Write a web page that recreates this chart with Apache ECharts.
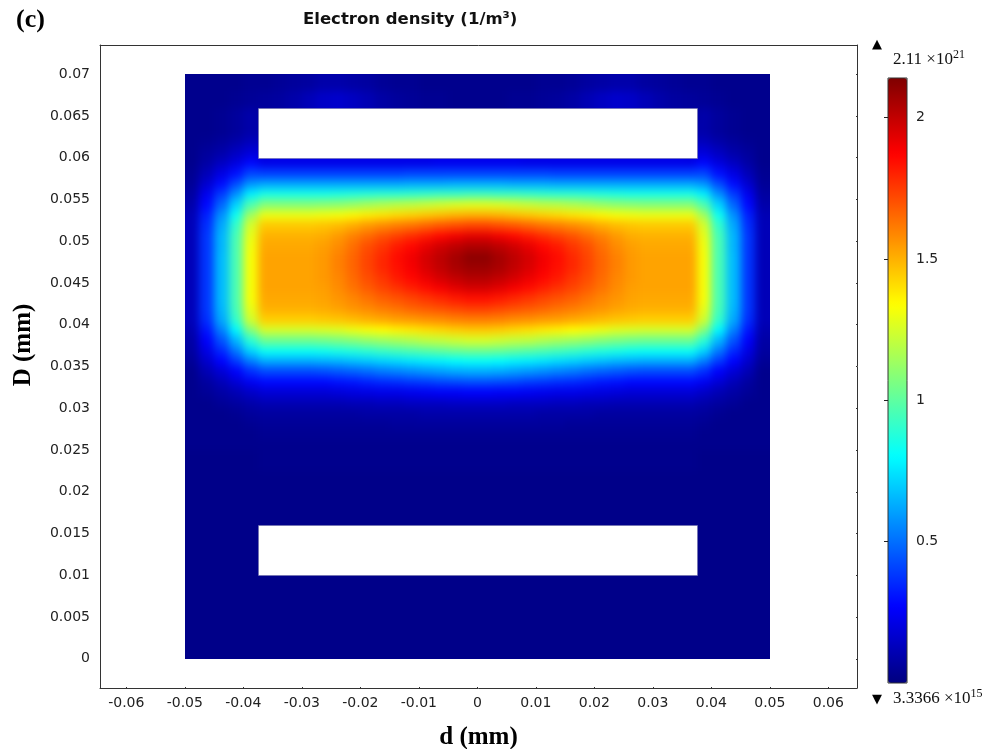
<!DOCTYPE html>
<html>
<head>
<meta charset="utf-8">
<script src="https://cdn.jsdelivr.net/npm/echarts@6/dist/echarts.min.js"></script>
<style>
  html, body { margin: 0; padding: 0; background: #fff; }
  #wrap { position: relative; width: 987px; height: 749px; }
  #field, #chart { position: absolute; left: 0; top: 0; width: 987px; height: 749px; }
  /* the solver field is a continuous solution: soften the mesh cells */
  #field { filter: blur(4px); }
</style>
</head>
<body>
<div id="wrap">
  <div id="field"></div>
  <div id="chart"></div>
</div>
<script>
// Axis ticks (mm)
const xTicks = [-0.06, -0.05, -0.04, -0.03, -0.02, -0.01, 0, 0.01, 0.02, 0.03, 0.04, 0.05, 0.06];
const yTicks = [0, 0.005, 0.01, 0.015, 0.02, 0.025, 0.03, 0.035, 0.04, 0.045, 0.05, 0.055, 0.06, 0.065, 0.07];
// Colour bar ticks (x 10^21 1/m^3)
const barTicks = [0.5, 1, 1.5, 2];
const densityMin = 0;      // 3.3366e15 1/m^3, effectively zero on this scale
const densityMax = 2.11;   // 2.11e21 1/m^3, maximum of the solution
const scaleMax = 2.14;     // top of the colour scale

// Simulation domain (x0, x1, y0, y1) in mm
const domain = [-0.05, 0.05, 0, 0.07];
// Electrodes (x0, x1, y0, y1) in mm
const electrodes = [
  [-0.0375, 0.0375, 0.01, 0.016],
  [-0.0375, 0.0375, 0.06, 0.066]
];

// Mesh columns: -0.05 .. 0.05 mm, 40 cells
const xEdges = [];
for (let k = 0; k <= 40; k++) xEdges.push(+(-0.05 + 0.0025 * k).toFixed(5));
// Mesh rows: coarse below and above the discharge band, fine inside it
const yEdges = [0, 0.005, 0.01, 0.016, 0.02, 0.0225, 0.025,
  0.02625, 0.0275, 0.02875, 0.03, 0.03125, 0.0325, 0.03375, 0.035, 0.03625, 0.0375,
  0.03875, 0.04, 0.04125, 0.0425, 0.04375, 0.045, 0.04625, 0.0475, 0.04875, 0.05,
  0.05125, 0.0525, 0.05375, 0.055, 0.05625, 0.0575, 0.05875, 0.06, 0.06125, 0.0625,
  0.066, 0.068, 0.07];

// Electron density per cell (x 10^21 1/m^3), rows bottom -> top; null = inside electrode
const _ = null;
const density = [
  [0.02,0.02,0.02,0.02,0.02,0.02,0.02,0.02,0.02,0.02, 0.02,0.02,0.02,0.02,0.02,0.02,0.02,0.02,0.02,0.02, 0.02,0.02,0.02,0.02,0.02,0.02,0.02,0.02,0.02,0.02, 0.02,0.02,0.02,0.02,0.02,0.02,0.02,0.02,0.02,0.02],
  [0.02,0.02,0.02,0.02,0.02,0.02,0.02,0.02,0.02,0.02, 0.02,0.02,0.02,0.02,0.02,0.02,0.02,0.02,0.02,0.02, 0.02,0.02,0.02,0.02,0.02,0.02,0.02,0.02,0.02,0.02, 0.02,0.02,0.02,0.02,0.02,0.02,0.02,0.02,0.02,0.02],
  [0.02,0.02,0.02,0.02,0.02,_,_,_,_,_, _,_,_,_,_,_,_,_,_,_, _,_,_,_,_,_,_,_,_,_, _,_,_,_,_,0.02,0.02,0.02,0.02,0.02],
  [0.02,0.02,0.02,0.02,0.02,0.02,0.02,0.02,0.02,0.02, 0.02,0.02,0.02,0.02,0.02,0.02,0.02,0.02,0.02,0.02, 0.02,0.02,0.02,0.02,0.02,0.02,0.02,0.02,0.02,0.02, 0.02,0.02,0.02,0.02,0.02,0.02,0.02,0.02,0.02,0.02],
  [0.02,0.02,0.02,0.02,0.02,0.02,0.02,0.02,0.02,0.02, 0.02,0.02,0.02,0.02,0.02,0.02,0.02,0.02,0.02,0.02, 0.02,0.02,0.02,0.02,0.02,0.02,0.02,0.02,0.02,0.02, 0.02,0.02,0.02,0.02,0.02,0.02,0.02,0.02,0.02,0.02],
  [0.02,0.02,0.02,0.02,0.02,0.03,0.03,0.03,0.03,0.03, 0.03,0.03,0.03,0.03,0.03,0.03,0.03,0.03,0.03,0.03, 0.03,0.03,0.03,0.03,0.03,0.03,0.03,0.03,0.03,0.03, 0.03,0.03,0.03,0.03,0.03,0.02,0.02,0.02,0.02,0.02],
  [0.03,0.03,0.03,0.03,0.03,0.03,0.03,0.03,0.03,0.03, 0.03,0.03,0.03,0.03,0.03,0.03,0.03,0.03,0.03,0.03, 0.03,0.03,0.03,0.03,0.03,0.03,0.03,0.03,0.03,0.03, 0.03,0.03,0.03,0.03,0.03,0.03,0.03,0.03,0.03,0.03],
  [0.03,0.03,0.03,0.03,0.03,0.04,0.04,0.04,0.04,0.04, 0.04,0.04,0.04,0.04,0.04,0.04,0.04,0.04,0.04,0.04, 0.04,0.04,0.04,0.04,0.04,0.04,0.04,0.04,0.04,0.04, 0.04,0.04,0.04,0.04,0.04,0.03,0.03,0.03,0.03,0.03],
  [0.03,0.03,0.03,0.03,0.04,0.05,0.05,0.05,0.05,0.05, 0.05,0.05,0.05,0.05,0.06,0.06,0.06,0.06,0.06,0.06, 0.06,0.06,0.06,0.06,0.06,0.06,0.05,0.05,0.05,0.05, 0.05,0.05,0.05,0.05,0.05,0.04,0.03,0.03,0.03,0.03],
  [0.03,0.03,0.03,0.04,0.06,0.07,0.07,0.07,0.07,0.07, 0.07,0.07,0.08,0.08,0.08,0.08,0.09,0.09,0.09,0.09, 0.09,0.09,0.09,0.09,0.08,0.08,0.08,0.08,0.07,0.07, 0.07,0.07,0.07,0.07,0.07,0.06,0.04,0.03,0.03,0.03],
  [0.03,0.03,0.05,0.07,0.09,0.11,0.11,0.11,0.11,0.11, 0.11,0.12,0.12,0.13,0.13,0.14,0.14,0.14,0.15,0.15, 0.15,0.15,0.14,0.14,0.14,0.13,0.13,0.12,0.12,0.11, 0.11,0.11,0.11,0.11,0.11,0.09,0.07,0.05,0.03,0.03],
  [0.03,0.05,0.08,0.11,0.15,0.18,0.18,0.18,0.18,0.18, 0.19,0.20,0.21,0.22,0.22,0.23,0.24,0.25,0.25,0.26, 0.26,0.25,0.25,0.24,0.23,0.22,0.22,0.21,0.20,0.19, 0.18,0.18,0.18,0.18,0.18,0.15,0.11,0.08,0.05,0.03],
  [0.03,0.07,0.12,0.18,0.24,0.28,0.28,0.28,0.28,0.28, 0.30,0.31,0.33,0.35,0.36,0.38,0.39,0.41,0.42,0.43, 0.43,0.42,0.41,0.39,0.38,0.36,0.35,0.33,0.31,0.30, 0.28,0.28,0.28,0.28,0.28,0.24,0.18,0.12,0.07,0.03],
  [0.03,0.11,0.18,0.26,0.36,0.42,0.42,0.42,0.42,0.43, 0.45,0.47,0.49,0.52,0.54,0.56,0.58,0.60,0.62,0.63, 0.63,0.62,0.60,0.58,0.56,0.54,0.52,0.49,0.47,0.45, 0.43,0.42,0.42,0.42,0.42,0.36,0.26,0.18,0.11,0.03],
  [0.05,0.16,0.27,0.39,0.53,0.63,0.63,0.63,0.63,0.64, 0.65,0.67,0.69,0.71,0.73,0.75,0.77,0.78,0.80,0.81, 0.81,0.80,0.78,0.77,0.75,0.73,0.71,0.69,0.67,0.65, 0.64,0.63,0.63,0.63,0.63,0.53,0.39,0.27,0.16,0.05],
  [0.07,0.21,0.35,0.52,0.71,0.82,0.82,0.82,0.82,0.83, 0.85,0.87,0.89,0.92,0.94,0.96,0.98,1.00,1.02,1.03, 1.03,1.02,1.00,0.98,0.96,0.94,0.92,0.89,0.87,0.85, 0.83,0.82,0.82,0.82,0.82,0.71,0.52,0.35,0.21,0.07],
  [0.08,0.26,0.44,0.65,0.89,1.03,1.03,1.03,1.03,1.04, 1.06,1.08,1.11,1.13,1.15,1.17,1.20,1.21,1.23,1.25, 1.25,1.23,1.21,1.20,1.17,1.15,1.13,1.11,1.08,1.06, 1.04,1.03,1.03,1.03,1.03,0.89,0.65,0.44,0.26,0.08],
  [0.10,0.31,0.54,0.79,1.08,1.25,1.25,1.25,1.25,1.26, 1.27,1.30,1.32,1.34,1.36,1.38,1.40,1.42,1.44,1.45, 1.45,1.44,1.42,1.40,1.38,1.36,1.34,1.32,1.30,1.27, 1.26,1.25,1.25,1.25,1.25,1.08,0.79,0.54,0.31,0.10],
  [0.12,0.36,0.62,0.91,1.24,1.44,1.44,1.44,1.44,1.45, 1.46,1.48,1.50,1.52,1.54,1.55,1.57,1.58,1.60,1.61, 1.61,1.60,1.58,1.57,1.55,1.54,1.52,1.50,1.48,1.46, 1.45,1.44,1.44,1.44,1.44,1.24,0.91,0.62,0.36,0.12],
  [0.12,0.38,0.65,0.95,1.29,1.50,1.50,1.50,1.50,1.51, 1.53,1.56,1.58,1.61,1.63,1.66,1.68,1.70,1.72,1.74, 1.74,1.72,1.70,1.68,1.66,1.63,1.61,1.58,1.56,1.53, 1.51,1.50,1.50,1.50,1.50,1.29,0.95,0.65,0.38,0.12],
  [0.12,0.38,0.66,0.96,1.32,1.52,1.52,1.52,1.52,1.53, 1.56,1.59,1.63,1.67,1.70,1.73,1.76,1.79,1.82,1.84, 1.84,1.82,1.79,1.76,1.73,1.70,1.67,1.63,1.59,1.56, 1.53,1.52,1.52,1.52,1.52,1.32,0.96,0.66,0.38,0.12],
  [0.12,0.38,0.66,0.96,1.32,1.53,1.53,1.53,1.53,1.54, 1.58,1.63,1.68,1.73,1.77,1.81,1.85,1.89,1.93,1.96, 1.96,1.93,1.89,1.85,1.81,1.77,1.73,1.68,1.63,1.58, 1.54,1.53,1.53,1.53,1.53,1.32,0.96,0.66,0.38,0.12],
  [0.12,0.38,0.66,0.96,1.32,1.53,1.53,1.53,1.53,1.55, 1.59,1.65,1.71,1.76,1.82,1.86,1.91,1.96,2.00,2.03, 2.03,2.00,1.96,1.91,1.86,1.82,1.76,1.71,1.65,1.59, 1.55,1.53,1.53,1.53,1.53,1.32,0.96,0.66,0.38,0.12],
  [0.12,0.38,0.66,0.96,1.32,1.53,1.53,1.53,1.53,1.55, 1.60,1.66,1.73,1.79,1.84,1.89,1.95,2.00,2.05,2.08, 2.08,2.05,2.00,1.95,1.89,1.84,1.79,1.73,1.66,1.60, 1.55,1.53,1.53,1.53,1.53,1.32,0.96,0.66,0.38,0.12],
  [0.12,0.38,0.66,0.96,1.32,1.53,1.53,1.53,1.53,1.55, 1.60,1.66,1.73,1.79,1.85,1.90,1.96,2.01,2.06,2.11, 2.11,2.06,2.01,1.96,1.90,1.85,1.79,1.73,1.66,1.60, 1.55,1.53,1.53,1.53,1.53,1.32,0.96,0.66,0.38,0.12],
  [0.12,0.38,0.65,0.96,1.31,1.52,1.52,1.52,1.52,1.54, 1.58,1.64,1.71,1.76,1.82,1.86,1.92,1.97,2.01,2.04, 2.04,2.01,1.97,1.92,1.86,1.82,1.76,1.71,1.64,1.58, 1.54,1.52,1.52,1.52,1.52,1.31,0.96,0.65,0.38,0.12],
  [0.12,0.38,0.65,0.95,1.29,1.50,1.50,1.50,1.50,1.51, 1.55,1.60,1.65,1.70,1.74,1.78,1.82,1.86,1.90,1.93, 1.93,1.90,1.86,1.82,1.78,1.74,1.70,1.65,1.60,1.55, 1.51,1.50,1.50,1.50,1.50,1.29,0.95,0.65,0.38,0.12],
  [0.12,0.36,0.62,0.91,1.25,1.45,1.45,1.45,1.45,1.46, 1.48,1.51,1.55,1.58,1.61,1.63,1.66,1.69,1.71,1.73, 1.73,1.71,1.69,1.66,1.63,1.61,1.58,1.55,1.51,1.48, 1.46,1.45,1.45,1.45,1.45,1.25,0.91,0.62,0.36,0.12],
  [0.11,0.33,0.57,0.83,1.14,1.30,1.30,1.30,1.30,1.31, 1.32,1.35,1.37,1.39,1.41,1.43,1.45,1.47,1.49,1.50, 1.50,1.49,1.47,1.45,1.43,1.41,1.39,1.37,1.35,1.32, 1.31,1.30,1.30,1.30,1.30,1.14,0.83,0.57,0.33,0.11],
  [0.09,0.28,0.48,0.71,0.96,1.08,1.08,1.08,1.08,1.09, 1.10,1.12,1.15,1.17,1.19,1.20,1.22,1.24,1.26,1.27, 1.27,1.26,1.24,1.22,1.20,1.19,1.17,1.15,1.12,1.10, 1.09,1.08,1.08,1.08,1.08,0.96,0.71,0.48,0.28,0.09],
  [0.07,0.23,0.39,0.57,0.77,0.85,0.85,0.85,0.85,0.85, 0.86,0.87,0.88,0.89,0.89,0.90,0.91,0.92,0.92,0.93, 0.93,0.92,0.92,0.91,0.90,0.89,0.89,0.88,0.87,0.86, 0.85,0.85,0.85,0.85,0.85,0.77,0.57,0.39,0.23,0.07],
  [0.05,0.17,0.29,0.43,0.58,0.62,0.62,0.62,0.62,0.62, 0.62,0.62,0.62,0.62,0.62,0.63,0.63,0.63,0.64,0.64, 0.64,0.64,0.63,0.63,0.63,0.62,0.62,0.62,0.62,0.62, 0.62,0.62,0.62,0.62,0.62,0.58,0.43,0.29,0.17,0.05],
  [0.04,0.12,0.21,0.30,0.41,0.40,0.40,0.40,0.40,0.40, 0.40,0.40,0.40,0.40,0.40,0.41,0.41,0.41,0.41,0.41, 0.41,0.41,0.41,0.41,0.41,0.40,0.40,0.40,0.40,0.40, 0.40,0.40,0.40,0.40,0.40,0.41,0.30,0.21,0.12,0.04],
  [0.03,0.08,0.14,0.20,0.28,0.22,0.22,0.22,0.22,0.22, 0.22,0.22,0.22,0.22,0.22,0.22,0.22,0.23,0.23,0.23, 0.23,0.23,0.23,0.22,0.22,0.22,0.22,0.22,0.22,0.22, 0.22,0.22,0.22,0.22,0.22,0.28,0.20,0.14,0.08,0.03],
  [0.03,0.06,0.09,0.14,0.19,_,_,_,_,_, _,_,_,_,_,_,_,_,_,_, _,_,_,_,_,_,_,_,_,_, _,_,_,_,_,0.19,0.14,0.09,0.06,0.03],
  [0.03,0.04,0.06,0.09,0.13,_,_,_,_,_, _,_,_,_,_,_,_,_,_,_, _,_,_,_,_,_,_,_,_,_, _,_,_,_,_,0.13,0.09,0.06,0.04,0.03],
  [0.03,0.03,0.04,0.06,0.09,_,_,_,_,_, _,_,_,_,_,_,_,_,_,_, _,_,_,_,_,_,_,_,_,_, _,_,_,_,_,0.09,0.06,0.04,0.03,0.03],
  [0.03,0.03,0.03,0.04,0.05,0.06,0.07,0.09,0.12,0.15, 0.16,0.14,0.11,0.08,0.06,0.05,0.04,0.04,0.03,0.03, 0.03,0.03,0.04,0.04,0.05,0.06,0.08,0.11,0.14,0.16, 0.15,0.12,0.09,0.07,0.06,0.05,0.04,0.03,0.03,0.03],
  [0.03,0.03,0.03,0.03,0.04,0.04,0.05,0.06,0.07,0.09, 0.09,0.08,0.07,0.05,0.04,0.04,0.03,0.03,0.03,0.03, 0.03,0.03,0.03,0.03,0.04,0.04,0.05,0.07,0.08,0.09, 0.09,0.07,0.06,0.05,0.04,0.04,0.03,0.03,0.03,0.03]
];

// Rainbow colour table
const rainbow = ['#00007f', '#0000ff', '#007fff', '#00ffff', '#7fff7f', '#ffff00', '#ff7f00', '#ff0000', '#7f0000'];

// Cells as [x0, x1, y0, y1, n, openLeft, openRight, openBelow, openAbove];
// an "open" side borders an electrode or the domain edge and is overscanned under the masks.
const isOpen = (r, c) => r < 0 || r >= density.length || c < 0 || c >= density[r].length || density[r][c] === null;
const cells = [];
density.forEach((row, r) => {
  row.forEach((n, c) => {
    if (n === null) return;
    cells.push([xEdges[c], xEdges[c + 1], yEdges[r], yEdges[r + 1], n,
      +isOpen(r, c - 1), +isOpen(r, c + 1), +isOpen(r - 1, c), +isOpen(r + 1, c)]);
  });
});

const OVERSCAN = 12;
function renderCell(params, api) {
  const a = api.coord([api.value(0), api.value(3)]);
  const b = api.coord([api.value(1), api.value(2)]);
  let x0 = Math.round(a[0]), y0 = Math.round(a[1]);
  let x1 = Math.round(b[0]), y1 = Math.round(b[1]);
  if (api.value(5)) x0 -= OVERSCAN;
  if (api.value(6)) x1 += OVERSCAN;
  if (api.value(7)) y1 += OVERSCAN;
  if (api.value(8)) y0 -= OVERSCAN;
  return {
    type: 'rect',
    shape: { x: x0, y: y0, width: x1 - x0, height: y1 - y0 },
    style: { fill: api.visual('color') }
  };
}

// White surround outside the domain, inside the plot frame
function renderSurround(params, api) {
  const cs = params.coordSys;
  const a = api.coord([api.value(0), api.value(3)]);
  const b = api.coord([api.value(1), api.value(2)]);
  const L = Math.round(a[0]), T = Math.round(a[1]), R = Math.round(b[0]), B = Math.round(b[1]);
  const gx0 = cs.x + 1, gy0 = cs.y + 1, gx1 = cs.x + cs.width - 1, gy1 = cs.y + cs.height - 1;
  const style = { fill: '#ffffff' };
  return {
    type: 'group',
    children: [
      { type: 'rect', shape: { x: gx0, y: gy0, width: L - gx0, height: gy1 - gy0 }, style },
      { type: 'rect', shape: { x: R, y: gy0, width: gx1 - R, height: gy1 - gy0 }, style },
      { type: 'rect', shape: { x: L, y: gy0, width: R - L, height: T - gy0 }, style },
      { type: 'rect', shape: { x: L, y: B, width: R - L, height: gy1 - B }, style }
    ]
  };
}

function renderElectrode(params, api) {
  const a = api.coord([api.value(0), api.value(3)]);
  const b = api.coord([api.value(1), api.value(2)]);
  return {
    type: 'rect',
    shape: { x: Math.round(a[0]) + 0.5, y: Math.round(a[1]) + 0.5, width: Math.round(b[0] - a[0]), height: Math.round(b[1] - a[1]) },
    style: { fill: '#ffffff', stroke: 'rgba(110,110,170,0.6)', lineWidth: 1 }
  };
}

const plotGrid = () => ({ left: 100, top: 45, width: 757, height: 643, show: false, outerBoundsMode: 'none', containLabel: false });
const xRange = { min: -0.0645, max: 0.0649 };
const yRange = { min: -0.0035, max: 0.0735 };

// Layer 1: density field
const fieldChart = echarts.init(document.getElementById('field'), null, { renderer: 'canvas' });
fieldChart.setOption({
  animation: false,
  grid: plotGrid(),
  xAxis: Object.assign({ type: 'value', show: false }, xRange),
  yAxis: Object.assign({ type: 'value', show: false }, yRange),
  visualMap: {
    show: false, type: 'continuous', seriesIndex: 0, dimension: 4,
    min: densityMin, max: scaleMax, inRange: { color: rainbow }
  },
  series: [{
    type: 'custom', name: 'Electron density',
    dimensions: ['x0', 'x1', 'y0', 'y1', 'n', 'oL', 'oR', 'oB', 'oA'],
    encode: { x: [0, 1], y: [2, 3] },
    renderItem: renderCell, data: cells, silent: true
  }]
});

// Layer 2: frame, geometry, labels and colour bar
const tickFont = { fontFamily: 'DejaVu Sans', fontSize: 14, color: '#222' };
const frame = { show: true, onZero: false, lineStyle: { color: '#333', width: 1 } };
const supRich = { sup: { fontFamily: 'Liberation Serif', fontSize: 12, lineHeight: 12, verticalAlign: 'top', color: '#111' } };

const chart = echarts.init(document.getElementById('chart'), null, { renderer: 'canvas' });
chart.setOption({
  animation: false,
  backgroundColor: 'transparent',
  title: [
    { text: '(c)', left: 16, top: 7, padding: 0,
      textStyle: { fontFamily: 'Liberation Serif', fontWeight: 'bold', fontSize: 26, color: '#000' } },
    { text: 'Electron density (1/m³)', left: 303, top: 11, padding: 0,
      textStyle: { fontFamily: 'DejaVu Sans', fontWeight: 'bold', fontSize: 16.5, color: '#111' } },
    { text: '▲', left: 872, top: 38, padding: 0,
      textStyle: { fontFamily: 'DejaVu Sans', fontSize: 13, color: '#000', fontWeight: 'normal' } },
    { text: densityMax + ' ×10{sup|21}', left: 893, top: 49, padding: 0,
      textStyle: { fontFamily: 'Liberation Serif', fontSize: 17, lineHeight: 22, color: '#111', fontWeight: 'normal', rich: supRich } },
    { text: '▼', left: 872, top: 693, padding: 0,
      textStyle: { fontFamily: 'DejaVu Sans', fontSize: 13, color: '#000', fontWeight: 'normal' } },
    { text: '3.3366 ×10{sup|15}', left: 893, top: 688, padding: 0,
      textStyle: { fontFamily: 'Liberation Serif', fontSize: 17, lineHeight: 22, color: '#111', fontWeight: 'normal', rich: supRich } }
  ],
  graphic: [
    { type: 'text', x: 24, y: 345, rotation: Math.PI / 2,
      style: { text: 'D (mm)', font: 'bold 25px "Liberation Serif"', fill: '#000', textAlign: 'center', textVerticalAlign: 'middle' } }
  ],
  grid: [
    plotGrid(),
    { left: 888, top: 78, width: 19, height: 605, show: true, z: 10, outerBoundsMode: 'none', containLabel: false,
      backgroundColor: 'transparent', borderColor: '#333', borderWidth: 1 }
  ],
  xAxis: [
    Object.assign({ gridIndex: 0, type: 'value', position: 'bottom',
      name: 'd (mm)', nameLocation: 'middle', nameGap: 37,
      nameTextStyle: { fontFamily: 'Liberation Serif', fontWeight: 'bold', fontSize: 25, color: '#000' },
      axisLine: frame,
      axisTick: { show: true, inside: true, length: 5, customValues: xTicks, lineStyle: { color: '#333' } },
      axisLabel: Object.assign({ show: true, margin: 8, customValues: xTicks, formatter: v => String(+v.toFixed(3)) }, tickFont),
      splitLine: { show: false } }, xRange),
    Object.assign({ gridIndex: 0, type: 'value', position: 'top',
      axisLine: frame,
      axisTick: { show: true, inside: true, length: 5, customValues: xTicks, lineStyle: { color: '#333' } },
      axisLabel: { show: false }, splitLine: { show: false } }, xRange),
    { gridIndex: 1, type: 'value', min: 0, max: 1, show: false }
  ],
  yAxis: [
    Object.assign({ gridIndex: 0, type: 'value', position: 'left',
      axisLine: frame,
      axisTick: { show: true, inside: true, length: 5, customValues: yTicks, lineStyle: { color: '#333' } },
      axisLabel: Object.assign({ show: true, margin: 10, customValues: yTicks, formatter: v => String(+v.toFixed(4)) }, tickFont),
      splitLine: { show: false } }, yRange),
    Object.assign({ gridIndex: 0, type: 'value', position: 'right',
      axisLine: frame,
      axisTick: { show: true, inside: true, length: 5, customValues: yTicks, lineStyle: { color: '#333' } },
      axisLabel: { show: false }, splitLine: { show: false } }, yRange),
    { gridIndex: 1, type: 'value', min: densityMin, max: scaleMax, position: 'right', z: 12,
      axisLine: { show: false },
      axisTick: { show: true, inside: true, length: 4, customValues: barTicks, lineStyle: { color: '#222' } },
      axisLabel: Object.assign({ show: true, margin: 9, customValues: barTicks, formatter: v => String(v) }, tickFont),
      splitLine: { show: false } }
  ],
  visualMap: {
    type: 'continuous', seriesIndex: [], dimension: 4,
    min: densityMin, max: scaleMax,
    calculable: false, hoverLink: false, realtime: false,
    left: 888, top: 78, itemWidth: 19, itemHeight: 605, padding: 0,
    inRange: { color: rainbow }
  },
  series: [
    { type: 'custom', name: 'Surround', xAxisIndex: 0, yAxisIndex: 0,
      encode: { x: [0, 1], y: [2, 3] },
      renderItem: renderSurround, data: [domain], z: 1, silent: true },
    { type: 'custom', name: 'Electrodes', xAxisIndex: 0, yAxisIndex: 0,
      encode: { x: [0, 1], y: [2, 3] },
      renderItem: renderElectrode, data: electrodes, z: 3, silent: true }
  ]
});
</script>
</body>
</html>
